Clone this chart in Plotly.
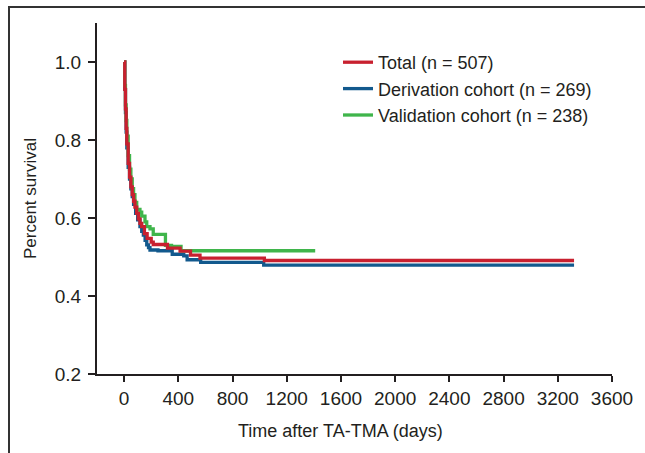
import plotly.graph_objects as go

# ---- data ----
total_t = [0, 5, 10, 15, 20, 30, 40, 50, 60, 70, 80, 93, 105, 117, 130, 150, 170, 200, 215, 320, 413, 490, 560, 1035, 3320]
total_s = [1.0, 0.93, 0.88, 0.83, 0.79, 0.74, 0.705, 0.68, 0.66, 0.643, 0.628, 0.612, 0.598, 0.586, 0.578, 0.56, 0.548, 0.538, 0.532, 0.523, 0.515, 0.505, 0.497, 0.491, 0.491]

deriv_t = [0, 5, 10, 15, 20, 30, 40, 50, 60, 70, 85, 100, 117, 130, 142, 155, 167, 180, 191, 250, 355, 440, 465, 565, 1030, 3320]
deriv_s = [1.0, 0.93, 0.87, 0.82, 0.78, 0.73, 0.70, 0.675, 0.655, 0.635, 0.612, 0.595, 0.578, 0.566, 0.556, 0.543, 0.531, 0.524, 0.518, 0.516, 0.507, 0.503, 0.493, 0.486, 0.479, 0.479]

valid_t = [0, 5, 10, 15, 20, 30, 40, 50, 60, 70, 80, 93, 117, 130, 154, 167, 191, 215, 305, 350, 420, 1410]
valid_s = [1.0, 0.94, 0.89, 0.85, 0.81, 0.76, 0.725, 0.70, 0.675, 0.66, 0.64, 0.622, 0.615, 0.605, 0.59, 0.578, 0.572, 0.558, 0.53, 0.527, 0.516, 0.516]

x_ticks = [0, 400, 800, 1200, 1600, 2000, 2400, 2800, 3200, 3600]
y_ticks = [0.2, 0.4, 0.6, 0.8, 1.0]
series_names = ["Total (n = 507)", "Derivation cohort (n = 269)", "Validation cohort (n = 238)"]
series_colors = ["#c8202f", "#12598d", "#3fb54b"]
series_t = [total_t, deriv_t, valid_t]
series_s = [total_s, deriv_s, valid_s]

fig = go.Figure()
# draw derivation, validation first, total last (on top); legend order by rank
for i in [1, 2, 0]:
    fig.add_trace(go.Scatter(x=series_t[i], y=series_s[i], mode="lines", name=series_names[i],
                             legendrank=i + 1,
                             line=dict(color=series_colors[i], width=3.3, shape="hv")))

W, H = 645, 453
L, R, T, B = 97, 33, 23, 79
pw, ph = W - L - R, H - T - B

def px2paper(x, y):
    return (x - L) / pw, (H - B - y) / ph

axis_col = "#231f20"
tick_font = dict(family="Liberation Sans, Arial, sans-serif", size=19, color="#231f20")
title_family = "Liberation Sans Narrow, Arial Narrow, Liberation Sans, sans-serif"

fig.update_layout(
    width=W, height=H,
    margin=dict(l=L, r=R, t=T, b=B),
    paper_bgcolor="white", plot_bgcolor="white",
    showlegend=True,
    legend=dict(x=px2paper(338, 0)[0], y=px2paper(0, 44)[1], xanchor="left", yanchor="top",
                font=dict(family="Liberation Sans, Arial, sans-serif", size=18, color="#231f20"),
                bgcolor="rgba(0,0,0,0)", borderwidth=0, itemwidth=30),
    xaxis=dict(range=[-200, 3600], tickvals=x_ticks, ticktext=[str(v) for v in x_ticks],
               showline=True, linecolor=axis_col, linewidth=2, ticks="outside", ticklen=6,
               tickwidth=1.5, tickcolor=axis_col, showgrid=False, zeroline=False,
               tickfont=tick_font, ticklabelstandoff=0),
    yaxis=dict(range=[0.2, 1.1], tickvals=y_ticks, ticktext=[f"{v:.1f}" for v in y_ticks],
               showline=True, linecolor=axis_col, linewidth=2, ticks="outside", ticklen=7,
               tickwidth=1.5, tickcolor=axis_col, showgrid=False, zeroline=False,
               tickfont=tick_font, ticklabelstandoff=3),
)

# axis titles
xt = px2paper(340, 431)
yt = px2paper(31, 199)
fig.add_annotation(text="Time after TA-TMA (days)", x=xt[0], y=xt[1], xref="paper", yref="paper",
                   showarrow=False, font=dict(family=title_family, size=18, color="#231f20"),
                   xanchor="center", yanchor="middle")
fig.add_annotation(text="Percent survival", x=yt[0], y=yt[1], xref="paper", yref="paper",
                   showarrow=False, font=dict(family=title_family, size=17, color="#231f20"),
                   textangle=-90, xanchor="center", yanchor="middle")

# frame (left and top border of the panel)
x0, y0 = px2paper(9, 460)
x1, y1 = px2paper(9, 7)
x2, _ = px2paper(660, 7)
fig.add_shape(type="path", xref="paper", yref="paper",
              path=f"M {x0},{y0} L {x1},{y1} L {x2},{y1}",
              line=dict(color="#333333", width=2))

fig.write_html("out.html", config={"displayModeBar": False},
               post_script="document.body.style.margin='0px';")
